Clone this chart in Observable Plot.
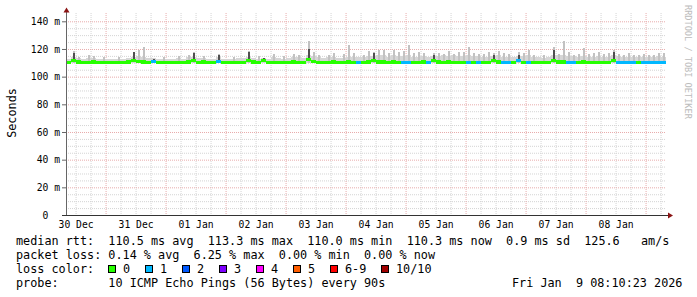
<!DOCTYPE html>
<html><head><meta charset="utf-8">
<script src="https://cdn.jsdelivr.net/npm/d3@7"></script>
<script src="https://cdn.jsdelivr.net/npm/@observablehq/plot@0.6"></script>
<style>
body{margin:0;background:#fff;width:697px;height:297px;overflow:hidden;position:relative;font-family:"DejaVu Sans Mono",monospace;}
#chart{position:absolute;left:0;top:0}
.row{position:absolute;font-size:11.8px;line-height:14px;white-space:pre;color:#000}
.sq{position:absolute;width:8px;height:8px;border:1px solid #000;box-sizing:border-box}
</style></head><body>
<div id="chart"></div>
<div id="legend"></div>
<script>
// ---- data (2-hour bins starting 30 Dec 08:10:23) ----
const median = [
110.5,112.0,110.6,110.5,110.5,110.6,110.5,110.5,110.4,110.5,
110.5,110.5,110.6,112.0,110.7,110.6,110.5,111.2,110.5,110.5,
110.4,110.5,110.5,110.5,110.6,112.0,110.5,110.6,110.5,110.5,
111.2,110.5,110.4,110.5,110.5,110.5,112.0,110.6,110.5,111.4,
110.5,110.5,110.5,110.4,110.5,110.6,110.5,110.5,112.2,110.7,
110.5,110.5,110.5,110.6,110.5,110.5,110.6,110.5,110.4,110.5,
110.6,112.0,110.6,110.6,110.5,110.6,110.5,110.4,110.4,110.4,
110.5,110.6,110.4,112.0,110.6,110.5,110.6,110.5,110.5,110.4,
110.5,110.4,110.4,110.5,110.5,112.0,110.6,110.3,110.3,110.3,
111.5,110.5,110.4,110.5,110.5,110.5,110.5,112.0,110.6,110.6,
110.4,110.4,110.5,110.6,110.5,110.5,110.5,110.5,110.5,112.0,
110.3,110.3,110.3,110.3,110.4,110.3,110.3,110.3,110.3,110.3];
const loss = [
0,0,0,0,0,0,0,0,0,0, 0,0,0,0,0,0,0,1,0,0,
0,0,0,0,0,0,0,0,0,0, 1,0,0,0,0,0,0,0,0,0,
0,0,0,0,0,0,0,0,0,0, 0,0,0,0,0,0,0,0,1,0,
0,0,0,0,0,0,0,1,1,0, 0,0,1,0,0,0,0,0,0,0,
1,0,1,0,0,0,0,1,1,0, 1,0,1,0,0,0,0,0,0,0,
1,1,0,0,0,0,0,0,0,0, 1,1,1,1,0,1,1,1,1,1];
const smokeBase = [
113,114,113.5,113,113.5,113.5,113,113,112.8,112.8,
113,112.8,113.2,114,115,114.5,113.5,113.5,113,113,
112.8,113,113.5,113,114,114.5,113.5,113.5,113,113,
114,113,112.8,113,113.5,113.5,114.5,113.5,113,113.5,
113,114,113.5,113,113.5,114,114.5,113.5,116,115,
114.5,113.5,114,114.5,113.5,113.5,114.5,114,114,114.5,
115,115,115.5,115.5,114.5,115.5,115,115,115.5,114.5,
114,115,114.5,115,115,115.5,115,115.5,115,115,
116,115,115,114.5,114.5,115,115.5,114,114,114,
115,115,115.5,114,114,113.5,114,116,115.5,115.5,
115,115,114,115,114,114,115,114,114,115.5,
115,114.5,114,114.5,114,114,114,114.5,115,114];
const SMOKE_MIN = 109.6;
const peakBins = [1,2,4,5,7,10,14,15,19,22,24,25,27,30,33,36,38,41,43,45,46,48,49,50,52,53,55,56,57,59,60,61,62,63,64,65,66,67,68,69,70,71,73,74,75,76,77,78,79,80,81,82,83,84,85,86,87,88,90,91,92,93,95,97,98,99,100,101,102,103,104,105,106,107,108,109,110,111,112,113,114,115,116,117,118,119];
const peakTops = [118.6,114.5,115.8,115,114.5,114,119.5,121.6,114.5,114.8,115.8,117.8,115,116.7,114.5,118.6,115,116.2,115,116.4,115.8,125.8,117.5,116,116,116.8,116.5,122.7,117,116,118.5,117.6,119,119.6,117,119.6,117.5,118.6,122.7,117,117.5,117,117,117,116.5,118.5,116.5,117.5,118,121.4,117,116.5,116.5,117.5,116.8,118.5,117,116.5,118,117,119,116,116,121.5,116.5,125.5,117.5,116,116.5,120.5,116.5,117,117.6,116.5,117,119.6,116.5,116,117,115.5,116,116.5,116,116,117.4,117];
const darkBins = [1,13,17,25,30,36,39,48,61,73,85,90,97,109];
const darkTops = [117,117.5,113,117,116,117.5,113.5,120,117,116,115.5,116,119.5,117.5];

const yTicks = [0,20,40,60,80,100,120,140];
const xTickDates = ["2025-12-30","2025-12-31","2026-01-01","2026-01-02","2026-01-03","2026-01-04","2026-01-05","2026-01-06","2026-01-07","2026-01-08"];
const xTickLabels = ["30 Dec","31 Dec","01 Jan","02 Jan","03 Jan","04 Jan","05 Jan","06 Jan","07 Jan","08 Jan"];

const lossLabels = ["0","1","2","3","4","5","6-9","10/10"];
const lossColors = ["#26ff00","#00b8ff","#0059ff","#7e00ff","#ff00ff","#ff5e00","#ff0000","#a10000"];

const rttStats = ["110.5 ms avg","113.3 ms max","110.0 ms min","110.3 ms now","0.9 ms sd","125.6   am/s"];
const lossStats = ["0.14 % avg","6.25 % max","0.00 % min","0.00 % now"];
const probeText = "10 ICMP Echo Pings (56 Bytes) every 90s";
const stampText = "Fri Jan  9 08:10:23 2026";

// ---- build ----
const t0 = new Date(Date.UTC(2025,11,30,8,10,23));
const tEnd = new Date(Date.UTC(2026,0,9,8,10,23));
const binMs = 7200000;
const bins = median.map((m,i)=>({t1:new Date(+t0+i*binMs), t2:new Date(+t0+(i+1)*binMs), med:m, loss:loss[i], base:smokeBase[i]}));
const peaks = peakBins.map((b,j)=>({t1:bins[b].t1, t2:bins[b].t2, top:peakTops[j]}));
const darks = darkBins.map((b,j)=>({t1:bins[b].t1, t2:bins[b].t2, lo:median[b], top:darkTops[j]}));

const noonTicks = xTickDates.map(s=>new Date(s+"T12:00:00Z"));
const labelByTime = new Map(noonTicks.map((d,i)=>[+d, xTickLabels[i]]));
const majorX = d3.utcDay.range(t0, tEnd);
const minorX = d3.utcHour.every(6).range(t0, tEnd).filter(d=>d.getUTCHours()!==0);
const minorY = d3.range(5,141,5).filter(v=>v%20!==0);
const majorY = yTicks.filter(v=>v>0);

const gridMinor = "#d4d4d4", gridMajor = "#e8acac";
const plot = Plot.plot({
  width:697, height:234, marginLeft:66, marginRight:31, marginTop:13, marginBottom:19,
  x:{type:"utc", domain:[t0,tEnd]},
  y:{domain:[0,146]},
  style:{fontFamily:"'DejaVu Sans Mono', monospace", fontSize:"9.7px", color:"#000", background:"#fff", overflow:"visible"},
  marks:[
    Plot.ruleY(minorY,{stroke:gridMinor, strokeDasharray:"1,1"}),
    Plot.ruleX(minorX,{stroke:gridMinor, strokeDasharray:"1,1"}),
    Plot.ruleY(majorY,{stroke:gridMajor, strokeDasharray:"1,1"}),
    Plot.ruleX(majorX,{stroke:gridMajor, strokeDasharray:"1,1"}),
    Plot.rect(bins,{x1:"t1",x2:"t2",y1:()=>SMOKE_MIN,y2:"base",fill:"#d6d6d6",shapeRendering:"crispEdges"}),
    Plot.rect(peaks,{x1:"t1",x2:"t2",y1:()=>SMOKE_MIN,y2:"top",fill:"#c2c2c2",insetLeft:1.5,insetRight:1.5,shapeRendering:"crispEdges"}),
    Plot.rect(darks,{x1:"t1",x2:"t2",y1:"lo",y2:"top",fill:"#505050",insetLeft:1.5,insetRight:1.5,shapeRendering:"crispEdges"}),
    Plot.rect(bins,{x1:"t1",x2:"t2",y1:d=>d.med-1.1,y2:d=>d.med+1.1,fill:d=>lossColors[d.loss],shapeRendering:"crispEdges"}),
    Plot.axisY({ticks:yTicks, tickFormat:d=>d===0?"0\u00a0\u00a0":d+" m", tickSize:4, tickPadding:2.5, stroke:"#666", label:null}),
    Plot.axisX({ticks:noonTicks, tickFormat:d=>labelByTime.get(+d), tickSize:0, tickPadding:6, label:null})
  ]
});
document.getElementById("chart").appendChild(plot);

const X = plot.scale("x"), Y = plot.scale("y");
const x0 = Math.round(X.apply(t0)), y0 = Math.round(Y.apply(0)), xR = Math.round(X.apply(tEnd));
const s = d3.select(plot);
s.append("line").attr("x1",x0+0.5).attr("x2",x0+0.5).attr("y1",y0).attr("y2",11).attr("stroke","#666");
s.append("line").attr("x1",x0-4).attr("x2",xR+3).attr("y1",y0+0.5).attr("y2",y0+0.5).attr("stroke","#333");
s.append("path").attr("d",`M${x0-2.5},12.5L${x0+3.5},12.5L${x0+0.5},7.5Z`).attr("fill","#8b1414");
s.append("path").attr("d",`M${xR+2},${y0-2.5}L${xR+2},${y0+3.5}L${xR+7},${y0+0.5}Z`).attr("fill","#8b1414");
s.append("text").attr("transform","translate(15.5,113) rotate(-90)").attr("text-anchor","middle")
  .style("font-size","11.8px").attr("fill","#000").text("Seconds");
s.append("text").attr("transform","translate(685,5) rotate(90)").attr("text-anchor","start")
  .style("font-size","8.6px").attr("fill","#bcbcbc").text("RRDTOOL / TOBI OETIKER");

// ---- legend below ----
const L = document.getElementById("legend");
function row(text, left, top){ const d=document.createElement("div"); d.className="row"; d.style.left=left+"px"; d.style.top=top+"px"; d.textContent=text; L.appendChild(d); return d; }
row("median rtt:  " + rttStats.join("  "), 16, 234);
row("packet loss: " + lossStats.join("  "), 16, 248);
row("loss color:", 16, 262);
let lx = 108;
lossLabels.forEach((lab,i)=>{
  const q=document.createElement("div"); q.className="sq"; q.style.left=lx+"px"; q.style.top="265px"; q.style.background=lossColors[i]; L.appendChild(q);
  row(lab, lx+15, 262);
  lx += 15 + 7*lab.length + 15;
});
row("probe:       " + probeText, 16, 276);
row(stampText, 512, 276);
</script></body></html>
